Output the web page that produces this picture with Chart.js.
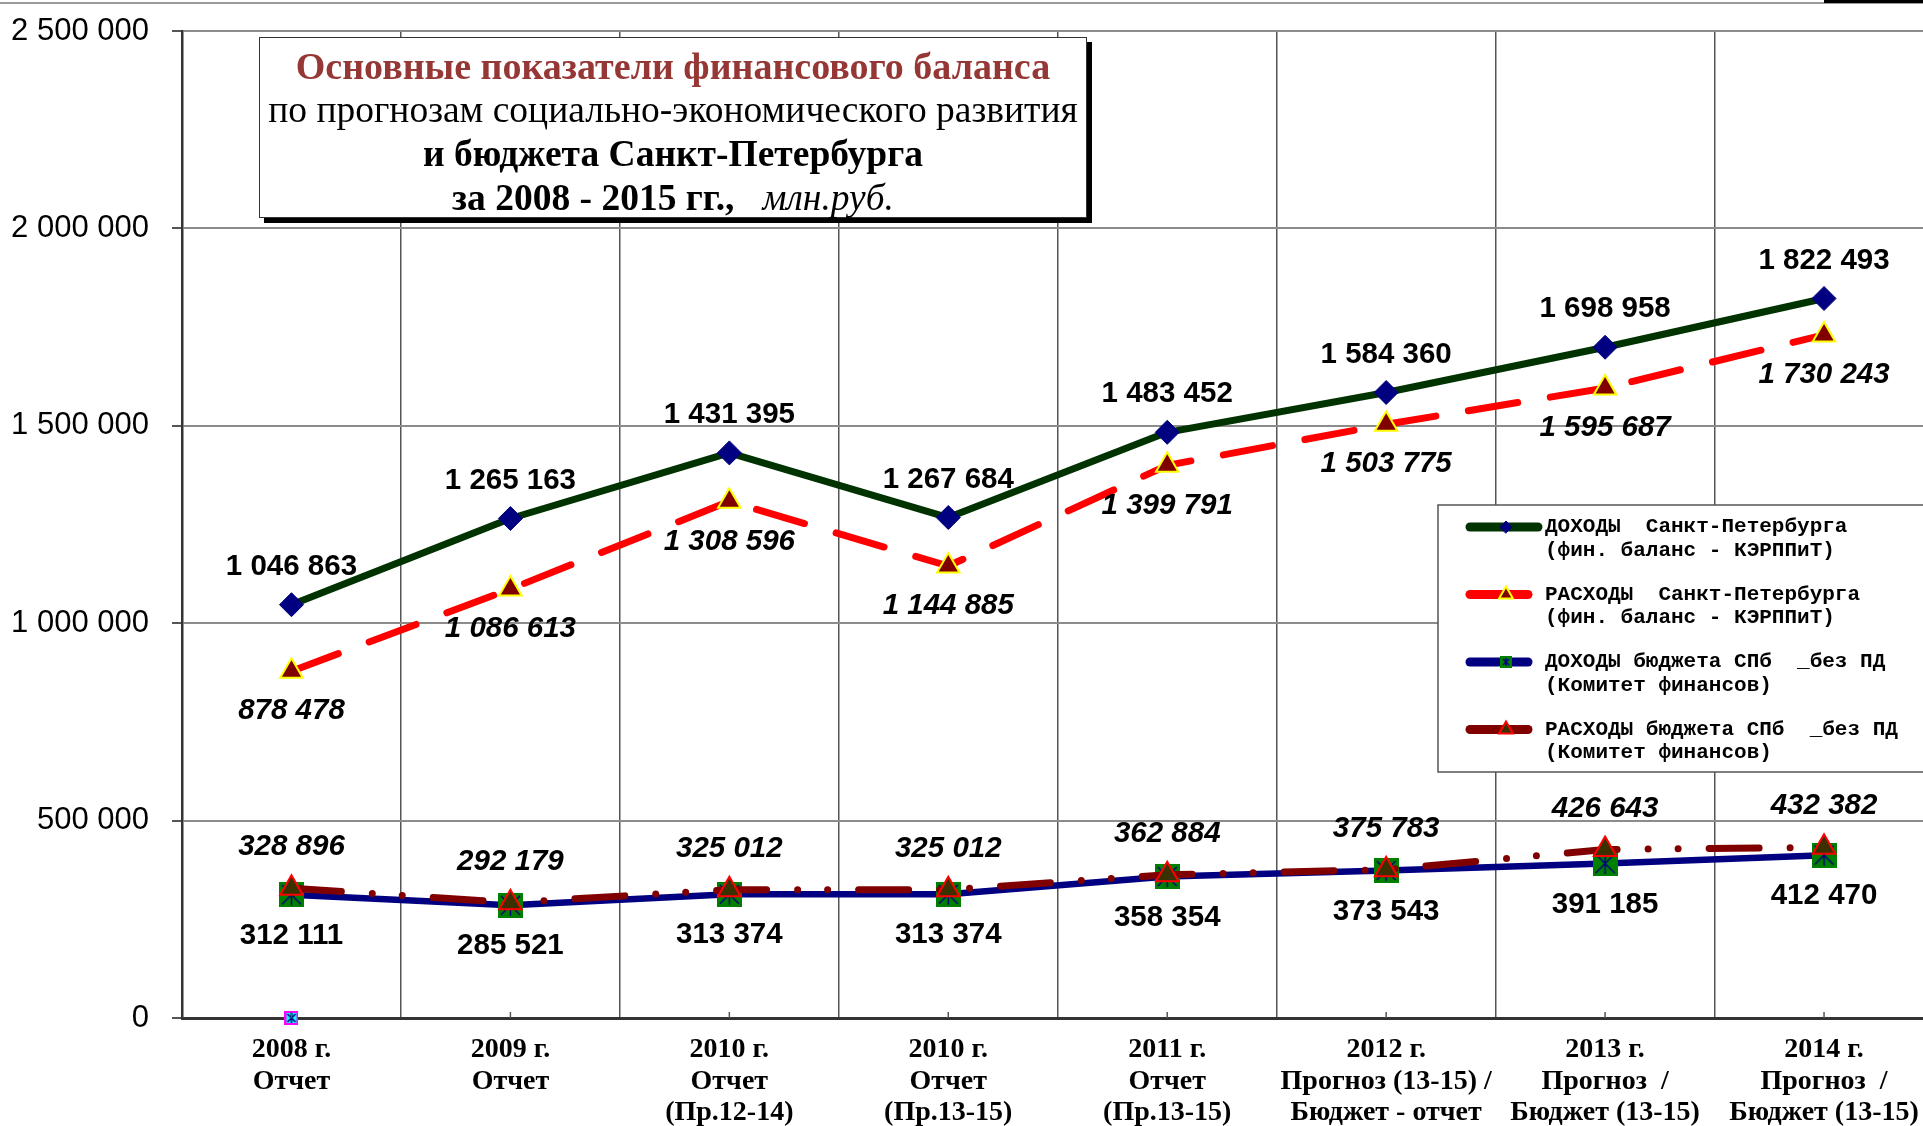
<!DOCTYPE html>
<html lang="ru">
<head>
<meta charset="utf-8">
<title>Основные показатели финансового баланса</title>
<script src="https://cdn.jsdelivr.net/npm/chart.js@4.4.1/dist/chart.umd.min.js"></script>
<style>
  html, body { margin: 0; padding: 0; background: #fff; overflow: hidden; }
  #wrap { position: relative; width: 1952px; height: 1126px; }
  #faixaTopo { position: absolute; left: 0; top: 2px; width: 1923px; border-top: 2px solid #9a9a9a; }
  #cantoTopo { position: absolute; left: 1824px; top: 0; width: 100px; height: 3px; background: #000; }
  #caixaTitulo {
    position: absolute; left: 259px; top: 37px; width: 828px; height: 181px;
    box-sizing: border-box; border: 1px solid #333; background: #fff;
    box-shadow: 5px 5px 0 #000;
    font-family: "Liberation Serif", "Times New Roman", serif;
    text-align: center; padding-top: 6px; color: #000;
  }
  #caixaTitulo div { line-height: 44px; height: 44px; white-space: nowrap; }
  #caixaTitulo .l1 { color: #953735; font-weight: bold; font-size: 38px; }
  #caixaTitulo .l2 { font-size: 37.5px; }
  #caixaTitulo .l3 { font-weight: bold; font-size: 37.5px; }
  #caixaTitulo .l4 { font-weight: bold; font-size: 37.5px; }
  #caixaTitulo .l4 i { font-weight: normal; }
</style>
</head>
<body>
<div id="wrap">
  <canvas id="grafico-balanco"></canvas>
  <div id="faixaTopo"></div>
  <div id="cantoTopo"></div>
  <div id="caixaTitulo">
    <div class="l1">Основные показатели финансового баланса</div>
    <div class="l2">по прогнозам социально-экономического развития</div>
    <div class="l3">и бюджета Санкт-Петербурга</div>
    <div class="l4">за 2008 - 2015 гг., &nbsp;&nbsp;<i>млн.руб.</i></div>
  </div>
</div>
<script>
// categorias do eixo X (cada uma em varias linhas)
var categorias = [
  ["2008 г.", "Отчет"],
  ["2009 г.", "Отчет"],
  ["2010 г.", "Отчет", "(Пр.12-14)"],
  ["2010 г.", "Отчет", "(Пр.13-15)"],
  ["2011 г.", "Отчет", "(Пр.13-15)"],
  ["2012 г.", "Прогноз (13-15) /", "Бюджет - отчет"],
  ["2013 г.", "Прогноз  /", "Бюджет (13-15)"],
  ["2014 г.", "Прогноз  /", "Бюджет (13-15)"]
];

var dohodySpb = [1046863, 1265163, 1431395, 1267684, 1483452, 1584360, 1698958, 1822493];
var rashodySpb = [878478, 1086613, 1308596, 1144885, 1399791, 1503775, 1595687, 1730243];
var dohodyBudzheta = [312111, 285521, 313374, 313374, 358354, 373543, 391185, 412470];
var rashodyBudzheta = [328896, 292179, 325012, 325012, 362884, 375783, 426643, 432382];
var pontoZero = [0, null, null, null, null, null, null, null];

var nomesSeries = [
  ["ДОХОДЫ  Санкт-Петербурга", "(фин. баланс - КЭРППиТ)"],
  ["РАСХОДЫ  Санкт-Петербурга", "(фин. баланс - КЭРППиТ)"],
  ["ДОХОДЫ бюджета СПб  _без ПД", "(Комитет финансов)"],
  ["РАСХОДЫ бюджета СПб  _без ПД", "(Комитет финансов)"]
];

var yMin = 0;
var yMax = 2500000;
var yPasso = 500000;

function formatar(v) {
  return String(v).replace(/\B(?=(\d{3})+(?!\d))/g, " ");
}

// marcador quadrado com estrela (estilo Excel)
function criarQuadrado(tam, fundo, borda, corEstrela) {
  var c = document.createElement("canvas");
  c.width = tam;
  c.height = tam;
  var ctx = c.getContext("2d");
  ctx.fillStyle = fundo;
  ctx.fillRect(0, 0, tam, tam);
  ctx.strokeStyle = corEstrela;
  ctx.lineWidth = 1.5;
  ctx.beginPath();
  ctx.moveTo(tam / 2, 2); ctx.lineTo(tam / 2, tam - 2);
  ctx.moveTo(3, 3); ctx.lineTo(tam - 3, tam - 3);
  ctx.moveTo(tam - 3, 3); ctx.lineTo(3, tam - 3);
  ctx.stroke();
  if (borda) {
    ctx.strokeStyle = borda;
    ctx.lineWidth = 2;
    ctx.strokeRect(1, 1, tam - 2, tam - 2);
  }
  return c;
}

var quadradoVerde = criarQuadrado(25, "#008000", null, "#000080");
var quadradoVerdeLegenda = criarQuadrado(12, "#008000", null, "#000080");
var quadradoCiano = criarQuadrado(14, "#00ffff", "#ff00ff", "#000080");

var rotulosPlugin = {
  id: "rotulos",
  afterDatasetsDraw: function (chart) {
    var ctx = chart.ctx;
    chart.data.datasets.forEach(function (ds, i) {
      if (!ds.rotulo) return;
      var meta = chart.getDatasetMeta(i);
      ctx.save();
      ctx.font = ds.rotulo.fonte;
      ctx.fillStyle = "#000";
      ctx.textAlign = "center";
      ctx.textBaseline = "middle";
      meta.data.forEach(function (pt, j) {
        var v = ds.data[j];
        if (v == null) return;
        ctx.fillText(formatar(v), pt.x, pt.y + ds.rotulo.desloc);
      });
      ctx.restore();
    });
  }
};

// pequenos tracos no eixo X no centro de cada categoria
var tracosPlugin = {
  id: "tracos",
  afterDraw: function (chart) {
    var ctx = chart.ctx;
    var x = chart.scales.x;
    ctx.save();
    ctx.strokeStyle = "#555";
    ctx.lineWidth = 1.5;
    for (var i = 0; i < categorias.length; i++) {
      var px = x.getPixelForValue(i);
      ctx.beginPath();
      ctx.moveTo(px, chart.chartArea.bottom);
      ctx.lineTo(px, chart.chartArea.bottom - 6);
      ctx.stroke();
    }
    ctx.restore();
  }
};

var legendaPlugin = {
  id: "legendaCaixa",
  afterDraw: function (chart) {
    var ctx = chart.ctx;
    var bx = 1438, by = 505, bw = 600, bh = 267;
    ctx.save();
    ctx.fillStyle = "#fff";
    ctx.fillRect(bx, by, bw, bh);
    ctx.strokeStyle = "#555";
    ctx.lineWidth = 1.5;
    ctx.strokeRect(bx, by, bw, bh);

    var marcadores = [
      { pointStyle: "rectRot", radius: 6, borderWidth: 1 },
      { pointStyle: "triangle", radius: 8, borderWidth: 2 },
      { pointStyle: quadradoVerdeLegenda, radius: 6, borderWidth: 0 },
      { pointStyle: "triangle", radius: 8, borderWidth: 2 }
    ];
    for (var i = 0; i < nomesSeries.length; i++) {
      var ds = chart.data.datasets[i];
      var y0 = by + 22 + i * 67.5;
      ctx.setLineDash([]);
      ctx.lineCap = "round";
      ctx.lineWidth = 9;
      ctx.strokeStyle = ds.borderColor;
      ctx.beginPath();
      ctx.moveTo(bx + 32, y0);
      ctx.lineTo(bx + (i === 0 ? 100 : 90), y0);
      ctx.stroke();

      ctx.fillStyle = ds.pointBackgroundColor;
      ctx.strokeStyle = ds.pointBorderColor;
      ctx.lineWidth = marcadores[i].borderWidth;
      Chart.helpers.drawPoint(ctx, {
        pointStyle: marcadores[i].pointStyle,
        radius: marcadores[i].radius,
        rotation: 0,
        borderWidth: marcadores[i].borderWidth
      }, bx + 68, y0);

      ctx.fillStyle = "#000";
      ctx.font = 'bold 21px "Liberation Mono", "Courier New", monospace';
      ctx.textAlign = "left";
      ctx.textBaseline = "middle";
      ctx.fillText(nomesSeries[i][0], bx + 107, y0);
      ctx.fillText(nomesSeries[i][1], bx + 107, y0 + 23.5);
    }
    ctx.restore();
  }
};

var fonteNegrito = 'bold 29.5px "Liberation Sans", Arial, sans-serif';
var fonteItalico = 'italic bold 29.5px "Liberation Sans", Arial, sans-serif';

var dados = {
  labels: categorias,
  datasets: [
    {
      label: nomesSeries[0].join(" "),
      data: dohodySpb,
      borderColor: "#003300",
      borderWidth: 7,
      pointStyle: "rectRot",
      pointRadius: 12,
      pointHoverRadius: 12,
      pointBackgroundColor: "#000080",
      pointBorderColor: "#000080",
      pointBorderWidth: 1,
      order: 2,
      rotulo: { fonte: fonteNegrito, desloc: -38 }
    },
    {
      label: nomesSeries[1].join(" "),
      data: rashodySpb,
      borderColor: "#ff0000",
      borderWidth: 7,
      borderDash: [50, 33],
      borderCapStyle: "round",
      pointStyle: "triangle",
      pointRadius: 13,
      pointHoverRadius: 13,
      pointBackgroundColor: "#800000",
      pointBorderColor: "#ffff00",
      pointBorderWidth: 2,
      order: 3,
      rotulo: { fonte: fonteItalico, desloc: 40 }
    },
    {
      label: nomesSeries[2].join(" "),
      data: dohodyBudzheta,
      borderColor: "#000080",
      borderWidth: 6.5,
      pointStyle: quadradoVerde,
      pointRadius: 12,
      pointHoverRadius: 12,
      pointBackgroundColor: "#008000",
      pointBorderColor: "#000080",
      order: 4,
      rotulo: { fonte: fonteNegrito, desloc: 41 }
    },
    {
      label: nomesSeries[3].join(" "),
      data: rashodyBudzheta,
      borderColor: "#800000",
      borderWidth: 7,
      borderDash: [50, 31, 0, 30, 0, 31],
      borderCapStyle: "round",
      pointStyle: "triangle",
      pointRadius: 13,
      pointHoverRadius: 13,
      pointBackgroundColor: "#3b3100",
      pointBorderColor: "#ff0000",
      pointBorderWidth: 2,
      order: 1,
      rotulo: { fonte: fonteItalico, desloc: -41 }
    },
    {
      label: "",
      data: pontoZero,
      showLine: false,
      pointStyle: quadradoCiano,
      pointRadius: 7,
      pointHoverRadius: 7,
      clip: false,
      order: 0
    }
  ]
};

var config = {
  type: "line",
  data: dados,
  options: {
    responsive: true,
    maintainAspectRatio: false,
    animation: false,
    events: [],
    layout: { padding: { top: 31, left: 0, right: 0, bottom: 0 } },
    elements: { line: { tension: 0, fill: false, borderJoinStyle: "round" } },
    plugins: {
      legend: { display: false },
      tooltip: { enabled: false }
    },
    scales: {
      x: {
        offset: true,
        grid: { offset: true, color: "#555", lineWidth: 1.5, drawTicks: false },
        border: { color: "#333", width: 3 },
        ticks: {
          color: "#000",
          padding: 16,
          autoSkip: false,
          maxRotation: 0,
          font: { family: '"Liberation Serif", "Times New Roman", serif', size: 28, weight: "bold", lineHeight: 1.13 }
        },
        afterFit: function (scale) { scale.height = 108; }
      },
      y: {
        min: yMin,
        max: yMax,
        grid: { color: "#8c8c8c", lineWidth: 2, tickLength: 10, tickColor: "#555" },
        border: { color: "#333", width: 2.5 },
        ticks: {
          stepSize: yPasso,
          color: "#000",
          padding: 23,
          font: { family: '"Liberation Sans", Arial, sans-serif', size: 31 },
          callback: function (v) { return formatar(v); }
        },
        afterFit: function (scale) {
          scale.width = 182;
          scale.paddingTop = 0;
          scale.paddingBottom = 0;
        }
      }
    }
  },
  plugins: [rotulosPlugin, tracosPlugin, legendaPlugin]
};

var meuGrafico = new Chart(document.getElementById("grafico-balanco"), config);
</script>
</body>
</html>
